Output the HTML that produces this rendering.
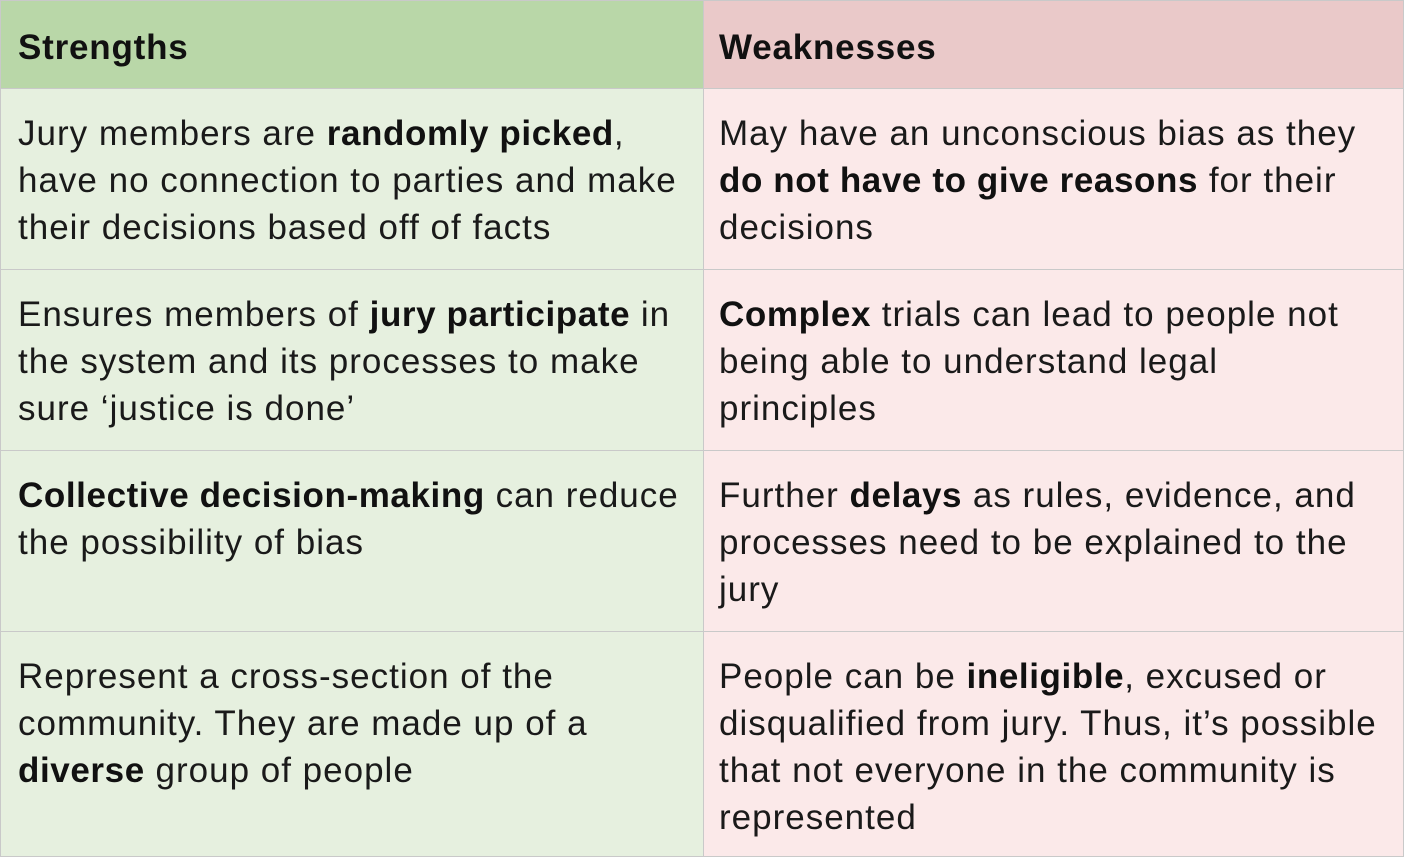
<!DOCTYPE html>
<html><head><meta charset="utf-8"><style>
html,body{margin:0;padding:0;background:#fff;}
body{width:1404px;height:858px;overflow:hidden;font-family:"Liberation Sans",sans-serif;}
table{border-collapse:collapse;width:1404px;table-layout:fixed;}
td{border:1px solid #c9c9c9;vertical-align:top;padding:0 0 0 17px;font-size:35px;line-height:47px;color:#1a1a1a;white-space:nowrap;letter-spacing:1px;overflow:hidden;}
td.l{background:#e6f0df;width:685px;}
td.r{background:#fbe9e9;padding-left:15px;}
tr.h td{height:81px;vertical-align:middle;font-weight:bold;font-size:35px;color:#111;letter-spacing:0.8px;padding-top:6px;}
tr.h td.l{background:#b9d7a8;}
tr.h td.r{background:#eac9c9;}
tr.a td{height:180px;}
td .in{padding-top:21px;}
b{color:#111;letter-spacing:0.6px;}
</style></head><body>
<table>
<tr class="h"><td class="l">Strengths</td><td class="r">Weaknesses</td></tr>
<tr class="a"><td class="l"><div class="in">Jury members are <b>randomly picked</b>,<br>have no connection to parties and make<br>their decisions based off of facts</div></td>
<td class="r"><div class="in">May have an unconscious bias as they<br><b>do not have to give reasons</b> for their<br>decisions</div></td></tr>
<tr class="a"><td class="l"><div class="in">Ensures members of <b>jury participate</b> in<br>the system and its processes to make<br>sure ‘justice is done’</div></td>
<td class="r"><div class="in"><b>Complex</b> trials can lead to people not<br>being able to understand legal<br>principles</div></td></tr>
<tr class="a"><td class="l"><div class="in"><b>Collective decision-making</b> can reduce<br>the possibility of bias</div></td>
<td class="r"><div class="in">Further <b>delays</b> as rules, evidence, and<br>processes need to be explained to the<br>jury</div></td></tr>
<tr class="a"><td class="l" style="height:224px"><div class="in">Represent a cross-section of the<br>community. They are made up of a<br><b>diverse</b> group of people</div></td>
<td class="r"><div class="in">People can be <b>ineligible</b>, excused or<br>disqualified from jury. Thus, it’s possible<br>that not everyone in the community is<br>represented</div></td></tr>
</table>
</body></html>
